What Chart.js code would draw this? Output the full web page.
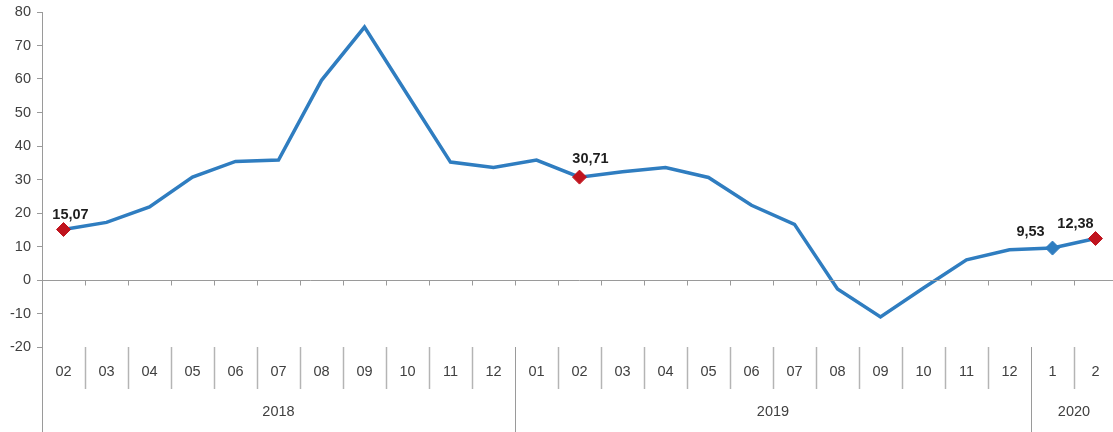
<!DOCTYPE html>
<html>
<head>
<meta charset="utf-8">
<script src="https://cdn.jsdelivr.net/npm/chart.js@4"></script>
<style>
html,body{margin:0;padding:0;background:#fff;overflow:hidden;width:1113px;height:432px;}
canvas{display:block;}
</style>
</head>
<body>
<canvas id="c" width="1125" height="432"></canvas>
<script>
const categories = ['02','03','04','05','06','07','08','09','10','11','12',
                    '01','02','03','04','05','06','07','08','09','10','11','12',
                    '1','2'];
const yearLabels = ['2018','2019','2020'];
const yearCounts = [11, 12, 2];
const values = [15.07, 17.2, 21.8, 30.7, 35.4, 35.8, 59.6, 75.5, 55.3, 35.2, 33.6,
                35.8, 30.71, 32.3, 33.6, 30.6, 22.3, 16.6, -2.7, -11.0, -2.4, 6.0, 9.0,
                9.53, 12.38];
const yTicks = [-20, -10, 0, 10, 20, 30, 40, 50, 60, 70, 80];
const labelledIdx = [0, 12, 23, 24];
const labelTexts = ['15,07', '30,71', '9,53', '12,38'];

const LINE = '#2F7DC0';
const RED = '#C0141E';
const AXIS = '#9A9A9A';
const TXT = '#404040';
const FONT = '"Liberation Sans", Arial, sans-serif';

const labelOffsets = {0:[7,-15], 12:[11,-18], 23:[-22,-16], 24:[-20,-15]};

const pointRadius = values.map((v,i)=> labelledIdx.includes(i) ? 7 : 0);
const pointColors = values.map((v,i)=> i === 23 ? LINE : RED);

const extras = {
  id: 'extras',
  afterDraw(chart) {
    const ctx = chart.ctx;
    const ca = chart.chartArea;
    const x = chart.scales.x, y = chart.scales.y;
    const n = categories.length;
    const w = (x.getPixelForValue(1) - x.getPixelForValue(0));
    const left = x.getPixelForValue(0) - w/2;
    const y0 = Math.round(y.getPixelForValue(0)) + 0.5;
    ctx.save();
    ctx.strokeStyle = AXIS;
    ctx.lineWidth = 1;
    ctx.beginPath();
    ctx.moveTo(ca.left, y0);
    ctx.lineTo(ca.right, y0);
    ctx.stroke();
    for (let k = 1; k <= n; k++) {
      const bx = Math.round(left + k*w) + 0.5;
      ctx.beginPath();
      ctx.moveTo(bx, y0);
      ctx.lineTo(bx, y0 + 5);
      ctx.stroke();
    }
    const ax = Math.round(ca.left) + 0.5;
    ctx.beginPath();
    ctx.moveTo(ax, ca.bottom);
    ctx.lineTo(ax, 432);
    ctx.stroke();
    const yearBounds = [];
    let acc = 0;
    yearCounts.forEach(c => { acc += c; yearBounds.push(acc); });
    for (let k = 1; k <= n; k++) {
      const bx = Math.round(left + k*w) + 0.5;
      const isYear = yearBounds.includes(k);
      ctx.strokeStyle = isYear ? AXIS : '#B4B4B4';
      ctx.lineWidth = isYear ? 1 : 1.5;
      ctx.beginPath();
      ctx.moveTo(bx, ca.bottom);
      ctx.lineTo(bx, isYear ? 432 : ca.bottom + 42);
      ctx.stroke();
    }
    ctx.fillStyle = TXT;
    ctx.font = '14.5px ' + FONT;
    ctx.textAlign = 'center';
    ctx.textBaseline = 'middle';
    categories.forEach((c, i) => {
      ctx.fillText(c, x.getPixelForValue(i), ca.bottom + 25);
    });
    let start = 0;
    yearCounts.forEach((c, j) => {
      const cx = left + (start + c/2) * w;
      ctx.fillText(yearLabels[j], cx, ca.bottom + 65);
      start += c;
    });
    ctx.fillStyle = '#1E1E1E';
    ctx.font = 'bold 14.5px ' + FONT;
    labelledIdx.forEach((i, j) => {
      const px = x.getPixelForValue(i);
      const py = y.getPixelForValue(values[i]);
      const off = labelOffsets[i];
      ctx.fillText(labelTexts[j], px + off[0], py + off[1]);
    });
    ctx.restore();
  }
};

new Chart(document.getElementById('c'), {
  type: 'line',
  data: {
    labels: categories,
    datasets: [{
      data: values,
      borderColor: LINE,
      borderWidth: 3.5,
      tension: 0,
      fill: false,
      clip: false,
      pointStyle: 'rectRot',
      pointRadius: pointRadius,
      pointHoverRadius: pointRadius,
      pointBackgroundColor: pointColors,
      pointBorderColor: pointColors,
      pointBorderWidth: 1
    }]
  },
  options: {
    responsive: false,
    animation: false,
    devicePixelRatio: 1,
    layout: { padding: { left: 0, right: 0, top: 12, bottom: 85 } },
    plugins: { legend: { display: false }, tooltip: { enabled: false } },
    scales: {
      x: { type: 'category', offset: true, display: false },
      y: {
        min: -20, max: 80,
        afterFit(s) { s.width = 42; s.paddingTop = 0; s.paddingBottom = 0; },
        afterBuildTicks(s) { s.ticks = yTicks.map(v => ({ value: v })); },
        grid: { drawOnChartArea: false, drawTicks: true, tickLength: 5, color: AXIS },
        border: { color: AXIS, width: 1 },
        ticks: { color: TXT, font: { family: FONT, size: 14.5 }, padding: 6 }
      }
    }
  },
  plugins: [extras]
});
</script>
</body>
</html>
